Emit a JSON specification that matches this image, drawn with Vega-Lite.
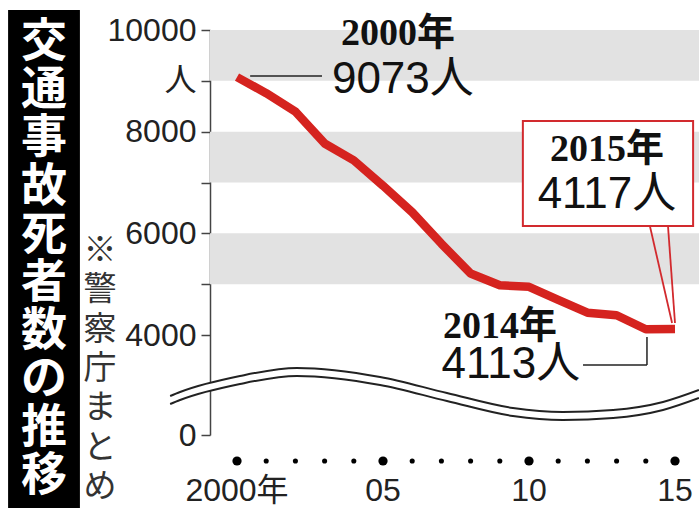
{
  "$schema": "https://vega.github.io/schema/vega-lite/v6.json",
  "width": 489,
  "height": 405,
  "autosize": {"type": "none"},
  "padding": {"left": 210, "top": 30, "right": 0, "bottom": 73},
  "background": "white",
  "config": {"view": {"stroke": null}},
  "datasets": {
    "deaths": [
      {"x": 2000, "y": 9073}, {"x": 2001, "y": 8757}, {"x": 2002, "y": 8396}, {"x": 2003, "y": 7768},
      {"x": 2004, "y": 7436}, {"x": 2005, "y": 6937}, {"x": 2006, "y": 6415}, {"x": 2007, "y": 5796},
      {"x": 2008, "y": 5209}, {"x": 2009, "y": 4979}, {"x": 2010, "y": 4948}, {"x": 2011, "y": 4691},
      {"x": 2012, "y": 4438}, {"x": 2013, "y": 4388}, {"x": 2014, "y": 4113}, {"x": 2015, "y": 4117}
    ],
    "years": [
      {"x": 2000, "label": "2000年"}, {"x": 2001, "label": ""}, {"x": 2002, "label": ""}, {"x": 2003, "label": ""},
      {"x": 2004, "label": ""}, {"x": 2005, "label": "05"}, {"x": 2006, "label": ""}, {"x": 2007, "label": ""},
      {"x": 2008, "label": ""}, {"x": 2009, "label": ""}, {"x": 2010, "label": "10"}, {"x": 2011, "label": ""},
      {"x": 2012, "label": ""}, {"x": 2013, "label": ""}, {"x": 2014, "label": ""}, {"x": 2015, "label": "15"}
    ],
    "bands": [{"y": 9000, "y2": 10000}, {"y": 7000, "y2": 8000}, {"y": 5000, "y2": 6000}],
    "wave": [
      {"x": 1997.71, "upper": 1560, "lower": 1240},
      {"x": 1998.05, "upper": 1720, "lower": 1400},
      {"x": 2000.10, "upper": 2360, "lower": 2040},
      {"x": 2002.05, "upper": 2680, "lower": 2360},
      {"x": 2004.90, "upper": 2320, "lower": 2000},
      {"x": 2007.19, "upper": 1680, "lower": 1360},
      {"x": 2009.45, "upper": 1080, "lower": 760},
      {"x": 2011.16, "upper": 920, "lower": 600},
      {"x": 2012.88, "upper": 1000, "lower": 680},
      {"x": 2014.59, "upper": 1320, "lower": 1000},
      {"x": 2015.82, "upper": 1800, "lower": 1480}
    ],
    "leaders": [
      {"x": 2000.45, "x2": 2002.91, "y": 9095, "y2": 9095},
      {"x": 2011.85, "x2": 2014.04, "y": 2800, "y2": 2800},
      {"x": 2014.04, "x2": 2014.04, "y": 3920, "y2": 2800}
    ],
    "pointer": [
      {"x": 2014.14, "x2": 2014.90, "y": 6144, "y2": 4236},
      {"x": 2014.76, "x2": 2015.00, "y": 6144, "y2": 4236}
    ],
    "box": [{"x": 2009.79, "x2": 2015.62, "y": 8210, "y2": 6144}],
    "serifLabels": [
      {"x": 2005.51, "y": 9921, "label": "2000年"},
      {"x": 2012.67, "y": 7639, "label": "2015年"},
      {"x": 2009.01, "y": 4157, "label": "2014年"}
    ],
    "countLabels": [
      {"x": 2005.68, "y": 9016, "label": "9073人"},
      {"x": 2012.67, "y": 6754, "label": "4117人"},
      {"x": 2009.38, "y": 2800, "label": "4113人"}
    ],
    "titleBox": [{"x": 1992.16, "x2": 1994.62, "y": 10393, "y2": -2920}],
    "titleText": [{"x": 1993.39, "y": 10197, "label": "交\n通\n事\n故\n死\n者\n数\nの\n推\n移"}],
    "noteText": [{"x": 1995.31, "y": 5967, "label": "※\n警\n察\n庁\nま\nと\nめ"}]
  },
  "layer": [
    {
      "data": {"name": "bands"},
      "mark": {"type": "rect", "color": "#e2e2e2"},
      "encoding": {
        "y": {"field": "y", "type": "quantitative",
          "scale": {"domain": [0, 4000, 10000], "range": [405, 305, 0], "nice": false, "zero": false},
          "axis": {
            "title": null, "values": [0, 4000, 5000, 6000, 7000, 8000, 9000, 10000],
            "labelExpr": "datum.value == 9000 ? '人' : ((datum.value == 7000 || datum.value == 5000) ? '' : '' + datum.value)",
            "grid": false, "domainColor": "#444", "domainWidth": 1.5, "tickColor": "#444", "tickWidth": 1.5, "tickSize": 9,
            "labelFont": "Liberation Sans, Noto Sans CJK JP, sans-serif",
            "labelFontSize": 32, "labelColor": "#222", "labelPadding": 5, "labelOverlap": false, "labelFlush": false
          }},
        "y2": {"field": "y2"}
      }
    },
    {
      "data": {"name": "titleBox"},
      "mark": {"type": "rect", "color": "#000"},
      "encoding": {
        "x": {"field": "x", "type": "quantitative", "scale": {"domain": [1999.075, 2015.822], "nice": false, "zero": false},
          "axis": {"title": null, "domain": false, "grid": false, "ticks": false, "labels": false}},
        "x2": {"field": "x2"},
        "y": {"field": "y", "type": "quantitative", "scale": {"domain": [0, 4000, 10000], "range": [405, 305, 0], "nice": false, "zero": false}},
        "y2": {"field": "y2"}
      }
    },
    {
      "data": {"name": "titleText"},
      "mark": {"type": "text", "color": "#fff", "font": "Noto Sans CJK JP", "fontSize": 46, "fontWeight": "bold", "lineBreak": "\n", "lineHeight": 48.2, "align": "center", "baseline": "top"},
      "encoding": {
        "x": {"field": "x", "type": "quantitative", "scale": {"domain": [1999.075, 2015.822], "nice": false, "zero": false}},
        "y": {"field": "y", "type": "quantitative", "scale": {"domain": [0, 4000, 10000], "range": [405, 305, 0], "nice": false, "zero": false}},
        "text": {"field": "label"}
      }
    },
    {
      "data": {"name": "noteText"},
      "mark": {"type": "text", "color": "#333", "font": "Noto Sans CJK JP", "fontSize": 33, "lineBreak": "\n", "lineHeight": 39.3, "align": "center", "baseline": "top"},
      "encoding": {
        "x": {"field": "x", "type": "quantitative", "scale": {"domain": [1999.075, 2015.822], "nice": false, "zero": false}},
        "y": {"field": "y", "type": "quantitative", "scale": {"domain": [0, 4000, 10000], "range": [405, 305, 0], "nice": false, "zero": false}},
        "text": {"field": "label"}
      }
    },
    {
      "data": {"name": "years"},
      "mark": {"type": "point", "filled": true, "color": "#000", "opacity": 1},
      "encoding": {
        "x": {"field": "x", "type": "quantitative", "scale": {"domain": [1999.075, 2015.822], "nice": false, "zero": false}},
        "y": {"datum": -1040, "type": "quantitative", "scale": {"domain": [0, 4000, 10000], "range": [405, 305, 0], "nice": false, "zero": false}},
        "size": {"condition": {"test": "datum.x % 5 === 0", "value": 85}, "value": 26}
      }
    },
    {
      "data": {"name": "years"},
      "mark": {"type": "text", "color": "#222", "font": "Liberation Sans, Noto Sans CJK JP", "fontSize": 32, "align": "center", "baseline": "middle"},
      "encoding": {
        "x": {"field": "x", "type": "quantitative", "scale": {"domain": [1999.075, 2015.822], "nice": false, "zero": false}},
        "y": {"datum": -2240, "type": "quantitative", "scale": {"domain": [0, 4000, 10000], "range": [405, 305, 0], "nice": false, "zero": false}},
        "text": {"field": "label"}
      }
    },
    {
      "data": {"name": "wave"},
      "mark": {"type": "area", "color": "#fff", "interpolate": "monotone"},
      "encoding": {
        "x": {"field": "x", "type": "quantitative", "scale": {"domain": [1999.075, 2015.822], "nice": false, "zero": false}},
        "y": {"field": "upper", "type": "quantitative", "scale": {"domain": [0, 4000, 10000], "range": [405, 305, 0], "nice": false, "zero": false}},
        "y2": {"field": "lower"}
      }
    },
    {
      "data": {"name": "wave"},
      "mark": {"type": "line", "color": "#222", "strokeWidth": 2, "interpolate": "monotone"},
      "encoding": {
        "x": {"field": "x", "type": "quantitative", "scale": {"domain": [1999.075, 2015.822], "nice": false, "zero": false}},
        "y": {"field": "upper", "type": "quantitative", "scale": {"domain": [0, 4000, 10000], "range": [405, 305, 0], "nice": false, "zero": false}}
      }
    },
    {
      "data": {"name": "wave"},
      "mark": {"type": "line", "color": "#222", "strokeWidth": 2, "interpolate": "monotone"},
      "encoding": {
        "x": {"field": "x", "type": "quantitative", "scale": {"domain": [1999.075, 2015.822], "nice": false, "zero": false}},
        "y": {"field": "lower", "type": "quantitative", "scale": {"domain": [0, 4000, 10000], "range": [405, 305, 0], "nice": false, "zero": false}}
      }
    },
    {
      "data": {"name": "leaders"},
      "mark": {"type": "rule", "color": "#222", "strokeWidth": 1.5},
      "encoding": {
        "x": {"field": "x", "type": "quantitative", "scale": {"domain": [1999.075, 2015.822], "nice": false, "zero": false}},
        "x2": {"field": "x2"},
        "y": {"field": "y", "type": "quantitative", "scale": {"domain": [0, 4000, 10000], "range": [405, 305, 0], "nice": false, "zero": false}},
        "y2": {"field": "y2"}
      }
    },
    {
      "data": {"name": "box"},
      "mark": {"type": "rect", "fill": "#fff", "stroke": "#d22a2e", "strokeWidth": 2},
      "encoding": {
        "x": {"field": "x", "type": "quantitative", "scale": {"domain": [1999.075, 2015.822], "nice": false, "zero": false}},
        "x2": {"field": "x2"},
        "y": {"field": "y", "type": "quantitative", "scale": {"domain": [0, 4000, 10000], "range": [405, 305, 0], "nice": false, "zero": false}},
        "y2": {"field": "y2"}
      }
    },
    {
      "data": {"name": "pointer"},
      "mark": {"type": "rule", "color": "#d22a2e", "strokeWidth": 1.8},
      "encoding": {
        "x": {"field": "x", "type": "quantitative", "scale": {"domain": [1999.075, 2015.822], "nice": false, "zero": false}},
        "x2": {"field": "x2"},
        "y": {"field": "y", "type": "quantitative", "scale": {"domain": [0, 4000, 10000], "range": [405, 305, 0], "nice": false, "zero": false}},
        "y2": {"field": "y2"}
      }
    },
    {
      "data": {"name": "deaths"},
      "mark": {"type": "line", "color": "#d5231f", "strokeWidth": 8.5, "strokeJoin": "round", "strokeCap": "butt"},
      "encoding": {
        "x": {"field": "x", "type": "quantitative", "scale": {"domain": [1999.075, 2015.822], "nice": false, "zero": false}},
        "y": {"field": "y", "type": "quantitative", "scale": {"domain": [0, 4000, 10000], "range": [405, 305, 0], "nice": false, "zero": false}}
      }
    },
    {
      "data": {"name": "serifLabels"},
      "mark": {"type": "text", "color": "#111", "font": "Liberation Serif, Noto Sans CJK JP", "fontWeight": "bold", "fontSize": 38, "align": "center", "baseline": "middle"},
      "encoding": {
        "x": {"field": "x", "type": "quantitative", "scale": {"domain": [1999.075, 2015.822], "nice": false, "zero": false}},
        "y": {"field": "y", "type": "quantitative", "scale": {"domain": [0, 4000, 10000], "range": [405, 305, 0], "nice": false, "zero": false}},
        "text": {"field": "label"}
      }
    },
    {
      "data": {"name": "countLabels"},
      "mark": {"type": "text", "color": "#111", "font": "Liberation Sans, Noto Sans CJK JP", "fontSize": 44, "align": "center", "baseline": "middle"},
      "encoding": {
        "x": {"field": "x", "type": "quantitative", "scale": {"domain": [1999.075, 2015.822], "nice": false, "zero": false}},
        "y": {"field": "y", "type": "quantitative", "scale": {"domain": [0, 4000, 10000], "range": [405, 305, 0], "nice": false, "zero": false}},
        "text": {"field": "label"}
      }
    }
  ]
}
